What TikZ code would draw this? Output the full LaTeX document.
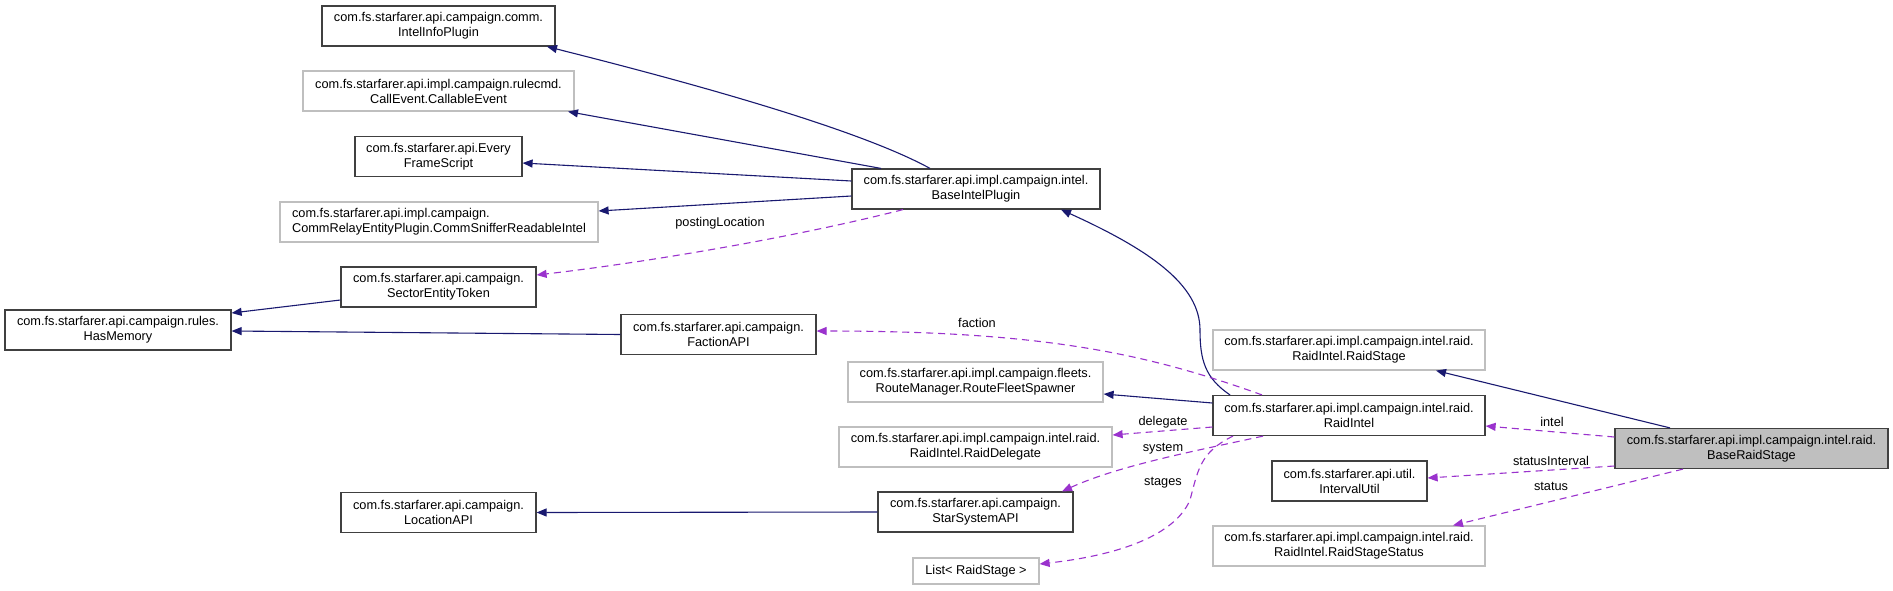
\documentclass[tikz,border=0pt]{standalone}
\usepackage{fontspec}
\setmainfont{Liberation Sans}
\usetikzlibrary{arrows.meta}
\definecolor{navy}{HTML}{191970}
\definecolor{orchid}{HTML}{9A32CD}
\definecolor{bdark}{HTML}{404040}
\definecolor{bgray}{HTML}{BFBFBF}
\newcommand{\dxfont}{\fontsize{12.75pt}{15pt}\selectfont}
\begin{document}
\begin{tikzpicture}[x=1pt,y=-1pt,
  box/.style={draw=bdark, line width=1.2pt, fill=white, minimum height=40pt, inner sep=0pt, align=center, font=\dxfont},
  gbox/.style={box, draw=bgray},
  inh/.style={draw=navy, line width=1.1pt, -{Triangle[length=10pt,width=8pt]}},
  use/.style={draw=orchid, line width=1.1pt, dash pattern=on 7pt off 5pt, -{Triangle[length=10pt,width=8pt]}},
  lbl/.style={font=\dxfont, inner sep=0pt}]
\useasboundingbox (0,0) rectangle (1893,590);
\fill[white] (0,0) rectangle (1893,590);

% left column
\node[box,  minimum width=233pt] (iip) at (438.5,26) {com.fs.starfarer.api.campaign.comm.\\IntelInfoPlugin};
\node[gbox, minimum width=271pt] (callable) at (438.5,91) {com.fs.starfarer.api.impl.campaign.rulecmd.\\CallEvent.CallableEvent};
\node[box,  minimum width=167pt] (efs) at (438.5,156.5) {com.fs.starfarer.api.Every\\FrameScript};
\node[gbox, minimum width=318pt, align=left] (sniffer) at (439,222) {com.fs.starfarer.api.impl.campaign.\\CommRelayEntityPlugin.CommSnifferReadableIntel};
\node[box,  minimum width=195pt] (set) at (438.5,287) {com.fs.starfarer.api.campaign.\\SectorEntityToken};
\node[box,  minimum width=226pt] (hasmem) at (118,330) {com.fs.starfarer.api.campaign.rules.\\HasMemory};
\node[box,  minimum width=195pt] (loc) at (438.5,512.5) {com.fs.starfarer.api.campaign.\\LocationAPI};

% middle columns
\node[box,  minimum width=195pt] (faction) at (718.5,334.5) {com.fs.starfarer.api.campaign.\\FactionAPI};
\node[box,  minimum width=248pt] (bip) at (976,189) {com.fs.starfarer.api.impl.campaign.intel.\\BaseIntelPlugin};
\node[gbox, minimum width=255pt] (route) at (975.5,382) {com.fs.starfarer.api.impl.campaign.fleets.\\RouteManager.RouteFleetSpawner};
\node[gbox, minimum width=273pt] (delegate) at (975.5,447) {com.fs.starfarer.api.impl.campaign.intel.raid.\\RaidIntel.RaidDelegate};
\node[box,  minimum width=195pt] (star) at (975.5,512) {com.fs.starfarer.api.campaign.\\StarSystemAPI};
\node[gbox, minimum width=126pt, minimum height=26pt] (list) at (976,571) {List< RaidStage >};

% right columns
\node[gbox, minimum width=272pt] (raidstage) at (1349,350) {com.fs.starfarer.api.impl.campaign.intel.raid.\\RaidIntel.RaidStage};
\node[box,  minimum width=272pt] (raidintel) at (1349,415.5) {com.fs.starfarer.api.impl.campaign.intel.raid.\\RaidIntel};
\node[box,  minimum width=155pt] (interval) at (1349.5,481) {com.fs.starfarer.api.util.\\IntervalUtil};
\node[gbox, minimum width=272pt] (stagestatus) at (1349,546) {com.fs.starfarer.api.impl.campaign.intel.raid.\\RaidIntel.RaidStageStatus};
\node[box,  minimum width=273pt, fill=bgray] (brs) at (1751.5,448.5) {com.fs.starfarer.api.impl.campaign.intel.raid.\\BaseRaidStage};

% inheritance edges
\draw[inh] ([xshift=-46pt]bip.north) .. controls (860,130) and (700,85) .. ([xshift=108.5pt]iip.south);
\draw[inh] ([xshift=-95pt]bip.north) -- ([xshift=129.5pt]callable.south);
\draw[inh] ([yshift=8pt]bip.west) -- ([yshift=-6.5pt]efs.east);
\draw[inh] ([yshift=-7pt]bip.west) -- ([yshift=11pt]sniffer.east);
\draw[inh] ([yshift=-13pt]set.west) -- ([yshift=17pt]hasmem.east);
\draw[inh] (faction.west) -- ([yshift=-1pt]hasmem.east);
\draw[inh] (star.west) -- (loc.east);
\draw[inh] ([xshift=-119pt]raidintel.north) .. controls (1205,378) and (1200,360) .. (1200,330)
   .. controls (1200,285) and (1150,250) .. ([xshift=85pt]bip.south);
\draw[inh] ([yshift=12.5pt]raidintel.west) -- ([yshift=-12pt]route.east);
\draw[inh] ([xshift=-81.5pt]brs.north) -- ([xshift=87pt]raidstage.south);

% usage edges
\draw[use] ([xshift=-73pt]bip.south) .. controls (800,236) and (650,262) .. ([yshift=12pt]set.east);
\node[lbl] (lposting) at (720,223) {postingLocation};
\draw[use] ([xshift=-87pt]raidintel.north) .. controls (1150,355) and (1050,331) .. ([yshift=3.5pt]faction.east);
\node[lbl] (lfaction) at (977,323) {faction};
\draw[use] ([yshift=-11.5pt]raidintel.west) -- ([yshift=12pt]delegate.east);
\node[lbl] (ldelegate) at (1163,422) {delegate};
\draw[use] ([xshift=-86pt]raidintel.south) .. controls (1200,450) and (1120,465) .. ([xshift=86.5pt]star.north);
\node[lbl] (lsystem) at (1163,449) {system};
\draw[use] ([xshift=-116pt]raidintel.south) .. controls (1200,452) and (1198,470) .. (1190,500)
   .. controls (1175,535) and (1120,555) .. ([yshift=7pt]list.east);
\node[lbl] (lstages) at (1163,483) {stages};
\draw[use] ([yshift=11.5pt]brs.west) -- ([yshift=-10.5pt]raidintel.east);
\node[lbl] (lintel) at (1552,422) {intel};
\draw[use] ([yshift=-17.5pt]brs.west) -- ([yshift=3pt]interval.east);
\node[lbl] (linterval) at (1551,461) {statusInterval};
\draw[use] ([xshift=-68.5pt]brs.south) -- ([xshift=104pt]stagestatus.north);
\node[lbl] (lstatus) at (1551,486) {status};
\end{tikzpicture}
\end{document}
